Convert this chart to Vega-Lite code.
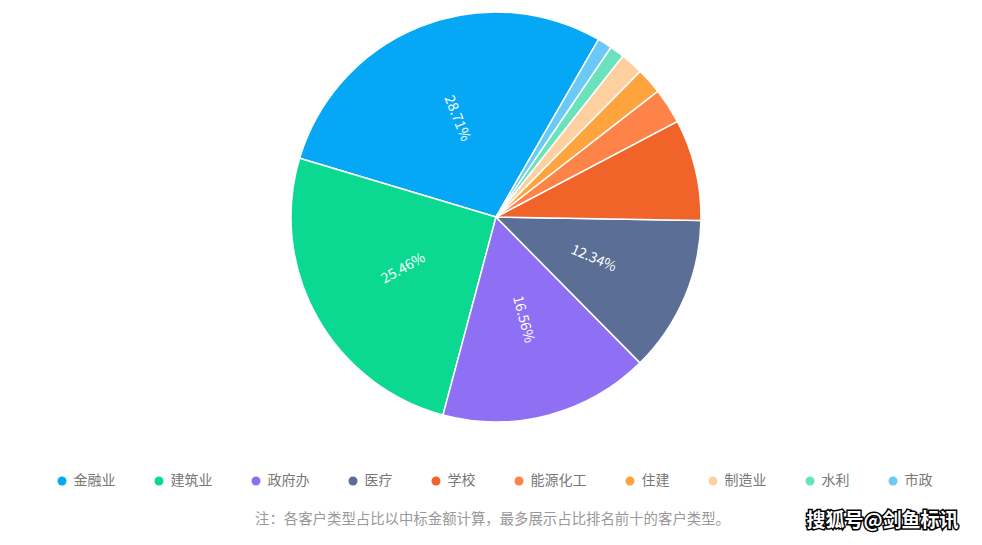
{
  "$schema": "https://vega.github.io/schema/vega-lite/v6.json",
  "width": 972,
  "height": 434,
  "autosize": {"type": "none"},
  "padding": {"left": 10, "top": 0, "right": 0, "bottom": 111},
  "background": "#ffffff",
  "config": {"view": {"stroke": null}, "font": "Noto Sans CJK SC"},
  "data": {
    "values": [
      {"type": "金融业", "value": 0.2871},
      {"type": "建筑业", "value": 0.2546},
      {"type": "政府办", "value": 0.1656},
      {"type": "医疗", "value": 0.1234},
      {"type": "学校", "value": 0.0798},
      {"type": "能源化工", "value": 0.0280},
      {"type": "住建", "value": 0.0206},
      {"type": "制造业", "value": 0.0180},
      {"type": "水利", "value": 0.0115},
      {"type": "市政", "value": 0.0114}
    ]
  },
  "layer": [
    {
      "mark": {"type": "arc", "outerRadius": 205, "stroke": "#ffffff", "strokeWidth": 1.5},
      "encoding": {
        "theta": {
          "field": "value",
          "type": "quantitative",
          "stack": true,
          "scale": {"domain": [0, 1], "range": [0.5236, -5.7596]}
        },
        "order": {"field": "value", "sort": "descending"},
        "color": {
          "field": "type",
          "type": "nominal",
          "scale": {
            "domain": ["金融业", "建筑业", "政府办", "医疗", "学校", "能源化工", "住建", "制造业", "水利", "市政"],
            "range": ["#06a7f5", "#0bd991", "#8f70f4", "#5a6e96", "#f06429", "#fe8348", "#fea43f", "#fed0a0", "#6ae3bc", "#6ac9f7"]
          },
          "legend": {
            "title": null,
            "orient": "none",
            "direction": "horizontal",
            "legendX": 45,
            "legendY": 474,
            "padding": 0,
            "symbolType": "circle",
            "symbolSize": 81,
            "symbolStrokeWidth": 0,
            "labelFontSize": 14,
            "labelColor": "#777777",
            "labelFont": "Noto Sans CJK SC",
            "labelOffset": 4.5,
            "columnPadding": 36
          }
        }
      }
    },
    {
      "transform": [
        {"stack": "value", "groupby": [], "sort": [{"field": "value", "order": "descending"}], "as": ["v0", "v1"]},
        {"filter": "datum.value >= 0.1"},
        {"calculate": "(datum.v0 + datum.v1) / 2", "as": "mid"},
        {"calculate": "(((-60 - 360 * datum.mid) % 180) + 270) % 180 - 90", "as": "ang"}
      ],
      "mark": {"type": "text", "radius": 106, "fontSize": 14, "color": "#ffffff", "font": "Noto Sans CJK SC"},
      "encoding": {
        "theta": {
          "field": "mid",
          "type": "quantitative",
          "stack": null,
          "scale": {"domain": [0, 1], "range": [0.5236, -5.7596]}
        },
        "text": {"field": "value", "type": "quantitative", "format": ".2%"},
        "angle": {"field": "ang", "type": "quantitative", "scale": null}
      }
    },
    {
      "data": {"values": [{"note": "注：各客户类型占比以中标金额计算，最多展示占比排名前十的客户类型。"}]},
      "mark": {"type": "text", "fontSize": 14.4, "font": "Noto Sans CJK SC", "color": "#999999", "align": "center", "baseline": "middle"},
      "encoding": {
        "x": {"value": 482.5},
        "y": {"value": 520},
        "text": {"field": "note"}
      }
    },
    {
      "data": {"values": [{"mark": "搜狐号@剑鱼标讯"}]},
      "mark": {"type": "text", "fontSize": 19, "fontWeight": "bold", "font": "Noto Sans CJK SC", "stroke": "#000000", "strokeWidth": 3, "color": "#000000"},
      "encoding": {
        "x": {"value": 872.5},
        "y": {"value": 520.5},
        "text": {"field": "mark"}
      }
    },
    {
      "data": {"values": [{"mark": "搜狐号@剑鱼标讯"}]},
      "mark": {"type": "text", "fontSize": 19, "fontWeight": "bold", "font": "Noto Sans CJK SC", "color": "#ffffff"},
      "encoding": {
        "x": {"value": 872.5},
        "y": {"value": 520.5},
        "text": {"field": "mark"}
      }
    }
  ]
}
